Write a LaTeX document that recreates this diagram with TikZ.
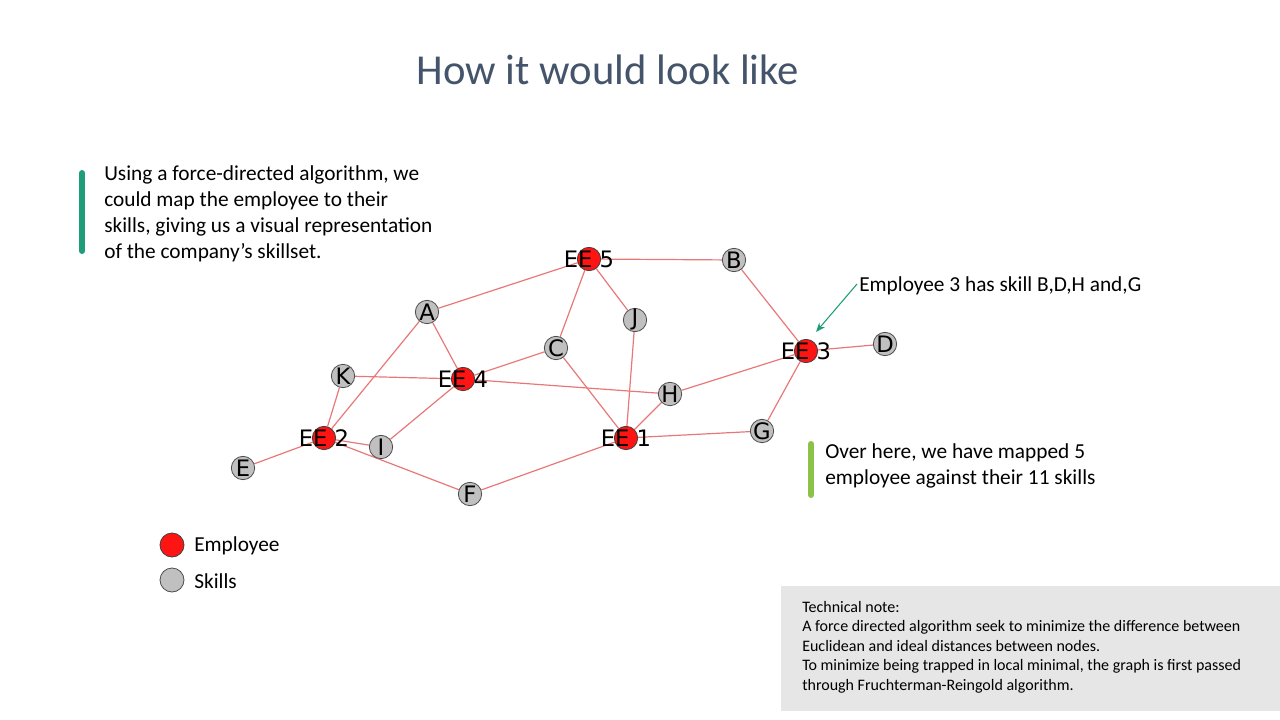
\documentclass[tikz,border=0pt]{standalone}
\usepackage{fontspec}
\setmainfont{Carlito}
\newfontfamily\lblfont{DejaVu Sans}
\usetikzlibrary{arrows.meta}
\definecolor{edgered}{HTML}{E87878}
\definecolor{empred}{HTML}{FF1414}
\definecolor{skillgray}{HTML}{C0C0C0}
\definecolor{titleblue}{HTML}{44546A}
\definecolor{accentteal}{HTML}{1F9C7A}
\definecolor{accentlime}{HTML}{8CC24A}
\definecolor{notegray}{HTML}{E6E6E6}
\pgfdeclarelayer{background}
\pgfsetlayers{background,main}
\tikzset{
  emp/.style={circle, draw=black!75, line width=0.6pt, fill=empred, minimum size=17.5pt, inner sep=0pt},
  skill/.style={circle, draw=black!70, line width=0.6pt, fill=skillgray, minimum size=17.5pt, inner sep=0pt},
  lbl/.style={font=\lblfont\fontsize{17}{20}\selectfont, text=black, inner sep=0pt},
  edge/.style={draw=edgered, line width=0.9pt},
  body/.style={font=\fontsize{16}{19.5}\selectfont, text=black, inner sep=0pt, align=left},
}
\begin{document}
\begin{tikzpicture}[x=0.75pt, y=-0.75pt]
\useasboundingbox (0,0) rectangle (1280,720);
% title
\node[font=\fontsize{32}{38}\selectfont, text=titleblue] (title) at (608,70) {How it would look like};
% left text
\draw[accentteal, line width=4.5pt, line cap=round] (82,173) -- (82,251);
\node[body, anchor=north west] (intro) at (104,165) {Using a force-directed algorithm, we\\could map the employee to their\\skills, giving us a visual representation\\of the company’s skillset.};
% graph nodes
\node[emp] (e5) at (589,259) {};
\node[skill] (B) at (734,260) {};
\node[skill] (A) at (427,312) {};
\node[skill] (J) at (635,320) {};
\node[skill] (C) at (556,348) {};
\node[emp] (e3) at (806,351) {};
\node[skill] (D) at (885,344) {};
\node[skill] (K) at (343,376) {};
\node[emp] (e4) at (463,379) {};
\node[skill] (H) at (670,394) {};
\node[emp] (e2) at (324,438) {};
\node[skill] (I) at (381,447) {};
\node[emp] (e1) at (626,438) {};
\node[skill] (G) at (762,431) {};
\node[skill] (E) at (243,468) {};
\node[skill] (F) at (470,494) {};
% labels
\node[lbl] (l5) at (e5) {EE 5};
\node[lbl] (l3) at (e3) {EE 3};
\node[lbl] (l4) at (e4) {EE 4};
\node[lbl] (l2) at (e2) {EE 2};
\node[lbl] (l1) at (e1) {EE 1};
\foreach \s in {A,B,C,D,E,F,G,H,I,J,K} {\node[lbl] (l\s) at (\s) {\s};}
% edges
\begin{pgfonlayer}{background}
\draw[edge] (e5) -- (A);
\draw[edge] (e5) -- (B);
\draw[edge] (e5) -- (C);
\draw[edge] (e5) -- (J);
\draw[edge] (A) -- (e4);
\draw[edge] (A) -- (e2);
\draw[edge] (K) -- (e4);
\draw[edge] (K) -- (e2);
\draw[edge] (e4) -- (C);
\draw[edge] (e4) -- (H);
\draw[edge] (e4) -- (I);
\draw[edge] (C) -- (e1);
\draw[edge] (J) -- (e1);
\draw[edge] (H) -- (e1);
\draw[edge] (H) -- (e3);
\draw[edge] (e1) -- (G);
\draw[edge] (e1) -- (F);
\draw[edge] (e2) -- (E);
\draw[edge] (e2) -- (I);
\draw[edge] (e2) -- (F);
\draw[edge] (B) -- (e3);
\draw[edge] (e3) -- (D);
\draw[edge] (e3) -- (G);
\end{pgfonlayer}
% annotation
\coordinate (arrstart) at (857,284);
\coordinate (arrend) at (816,332);
\draw[accentteal, line width=0.8pt, -{Stealth[length=7pt,width=5.5pt]}] (arrstart) -- (arrend);
\node[body, anchor=west] (ann) at (859,286) {Employee 3 has skill B,D,H and,G};
% right text
\draw[accentlime, line width=4.5pt, line cap=round] (811,444) -- (811,495);
\node[body, anchor=north west] (over) at (825,443) {Over here, we have mapped 5\\employee against their 11 skills};
% legend
\node[emp, minimum size=18pt] (legemp) at (172,545) {};
\node[skill, minimum size=18pt] (legskill) at (172,580) {};
\node[body, anchor=west] (legemptxt) at (194,546) {Employee};
\node[body, anchor=west] (legskilltxt) at (194,581) {Skills};
% technical note
\fill[notegray] (781,586) rectangle (1280,711);
\node[font=\fontsize{12}{14.6}\selectfont, inner sep=0pt, align=left, anchor=north west] (note) at (802,601) {Technical note:\\A force directed algorithm seek to minimize the difference between\\Euclidean and ideal distances between nodes.\\To minimize being trapped in local minimal, the graph is first passed\\through Fruchterman-Reingold algorithm.};
\end{tikzpicture}
\end{document}
